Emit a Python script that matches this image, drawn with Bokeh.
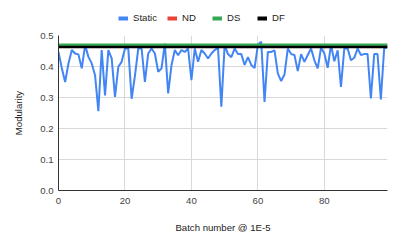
from bokeh.plotting import figure
from bokeh.layouts import column
from bokeh.models import Range1d, Legend, LegendItem, FixedTicker, NumeralTickFormatter
from bokeh.embed import file_html
from bokeh.resources import INLINE

batch = list(range(100))
static = [0.447, 0.394, 0.350, 0.410, 0.453, 0.442, 0.439, 0.394, 0.469, 0.431,
          0.410, 0.372, 0.256, 0.453, 0.307, 0.453, 0.426, 0.302, 0.399, 0.415,
          0.458, 0.458, 0.296, 0.370, 0.458, 0.458, 0.350, 0.442, 0.458, 0.442,
          0.383, 0.394, 0.474, 0.313, 0.404, 0.453, 0.436, 0.453, 0.447, 0.458,
          0.356, 0.458, 0.415, 0.453, 0.442, 0.426, 0.442, 0.453, 0.460, 0.270,
          0.470, 0.440, 0.430, 0.458, 0.440, 0.440, 0.405, 0.430, 0.405, 0.395,
          0.470, 0.480, 0.286, 0.447, 0.447, 0.452, 0.378, 0.353, 0.374, 0.458,
          0.440, 0.437, 0.385, 0.440, 0.415, 0.437, 0.458, 0.420, 0.394, 0.461,
          0.442, 0.396, 0.470, 0.417, 0.452, 0.334, 0.458, 0.458, 0.420, 0.428,
          0.458, 0.437, 0.440, 0.440, 0.297, 0.440, 0.440, 0.294, 0.458, 0.463]
nd = [0.467] * 100
ds = [0.470] * 100
df = [0.463] * 100

series_names = ["Static", "ND", "DS", "DF"]
series_values = [static, nd, ds, df]
series_colors = ["#4285f4", "#ea4335", "#34a853", "#000000"]
x_ticks = [0, 20, 40, 60, 80]
y_ticks = [0.0, 0.1, 0.2, 0.3, 0.4, 0.5]

FONT = "Liberation Sans"
FS = "9.6px"

# ---- legend strip (its view window excludes the data, so only the legend shows) ----
leg = figure(width=391, height=26, output_backend="svg", toolbar_location=None,
             x_axis_type=None, y_axis_type=None,
             x_range=Range1d(0, 99), y_range=Range1d(1, 2),
             min_border_left=58, min_border_right=4, min_border_top=0, min_border_bottom=0)
leg.outline_line_color = None
leg.grid.visible = False
leg_items = []
for name, vals, col in zip(series_names, series_values, series_colors):
    r = leg.line(batch, vals, line_color=col, line_width=4)
    leg_items.append(LegendItem(label=name, renderers=[r]))
legend = Legend(items=leg_items, orientation="horizontal", location=(60, 3),
                label_text_font=FONT, label_text_font_size=FS,
                label_text_color="#222222", glyph_width=10, glyph_height=8,
                spacing=10, label_standoff=5, padding=0, margin=0,
                background_fill_alpha=0, border_line_color=None)
leg.add_layout(legend, "center")

# ---- main chart ----
p = figure(width=391, height=210, output_backend="svg", toolbar_location=None,
           x_range=Range1d(0, 99), y_range=Range1d(0, 0.5),
           min_border_left=58, min_border_right=4, min_border_top=9, min_border_bottom=46)
p.outline_line_color = None

p.line(batch, static, line_color=series_colors[0], line_width=2)
p.line(batch, nd, line_color=series_colors[1], line_width=2.5)
p.line(batch, ds, line_color=series_colors[2], line_width=2.5)
p.line(batch, df, line_color=series_colors[3], line_width=2.5)

for ax in (p.xaxis[0], p.yaxis[0]):
    ax.major_tick_line_color = None
    ax.minor_tick_line_color = None
    ax.major_tick_out = 0
    ax.major_tick_in = 0
    ax.minor_tick_out = 0
    ax.minor_tick_in = 0
    ax.axis_line_color = "#333333"
    ax.axis_line_width = 1
    ax.major_label_text_font = FONT
    ax.major_label_text_font_size = FS
    ax.major_label_text_color = "#444444"
    ax.axis_label_text_font = FONT
    ax.axis_label_text_font_size = FS
    ax.axis_label_text_font_style = "normal"
    ax.axis_label_text_color = "#222222"

p.xaxis.ticker = FixedTicker(ticks=x_ticks)
p.yaxis.ticker = FixedTicker(ticks=y_ticks)
p.yaxis.formatter = NumeralTickFormatter(format="0.0")
p.xaxis.axis_label = "Batch number @ 1E-5"
p.yaxis.axis_label = "Modularity"
p.xaxis.major_label_standoff = 7
p.yaxis.major_label_standoff = 5
p.xaxis.axis_label_standoff = 15
p.yaxis.axis_label_standoff = 13

p.xgrid.ticker = FixedTicker(ticks=[20, 40, 60, 80])
p.ygrid.ticker = FixedTicker(ticks=[0.1, 0.2, 0.3, 0.4, 0.5])
p.grid.grid_line_color = "#d9d9d9"
p.grid.grid_line_width = 1

layout = column(leg, p, spacing=0)
open("out.html", "w").write(file_html(layout, INLINE))
